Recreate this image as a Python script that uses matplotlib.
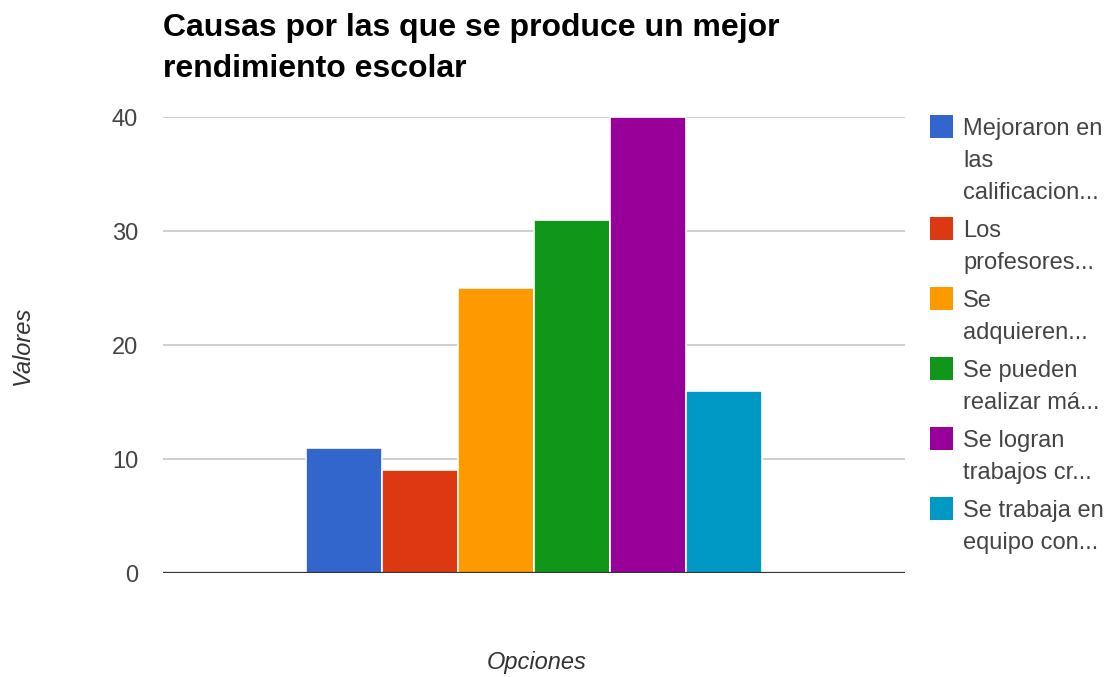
import numpy as np
import matplotlib.pyplot as plt
from matplotlib.patches import Rectangle

plt.rcParams['font.family'] = ['Liberation Sans', 'DejaVu Sans']

titulo = ['Causas por las que se produce un mejor', 'rendimiento escolar']
opciones = [['Mejoraron en', 'las', 'calificacion...'],
            ['Los', 'profesores...'],
            ['Se', 'adquieren...'],
            ['Se pueden', 'realizar má...'],
            ['Se logran', 'trabajos cr...'],
            ['Se trabaja en', 'equipo con...']]
valores = [11, 9, 25, 31, 40, 16]
colores = ['#3366cc', '#dc3912', '#ff9900', '#109618', '#990099', '#0099c6']
yticks = [0, 10, 20, 30, 40]

W, H = 1114, 677
fig = plt.figure(figsize=(W / 100, H / 100), dpi=100)
ax = fig.add_axes([163 / W, 1 - 573 / H, (905 - 163) / W, (573 - 117) / H])

n = len(valores)
xi = np.arange(n) - (n - 1) / 2
ax.bar(xi, valores, width=1.0, color=colores, edgecolor='white', linewidth=1.2, zorder=2)
ax.set_xlim(-4.88, 4.88)
ax.set_ylim(0, 40)
ax.set_yticks(yticks)
ax.set_xticks([])
ax.grid(axis='y', color='#cccccc', linewidth=1.3, zorder=0)
for s in ['top', 'right', 'left', 'bottom']:
    ax.spines[s].set_visible(False)
ax.axhline(0, color='#333333', linewidth=1.6, zorder=3)
ax.tick_params(axis='y', length=0, pad=18, labelsize=17, labelcolor='#444444')

# titulo en dos lineas
for k, linea in enumerate(titulo):
    fig.text(163 / W, 1 - (36 + 41 * k) / H, linea, fontsize=23, fontweight='bold',
             color='#000000', ha='left', va='baseline')
fig.text(22 / W, 1 - 345 / H, 'Valores', rotation=90, fontsize=17, style='italic',
         color='#333333', ha='center', va='center')
fig.text(537 / W, 1 - 663 / H, 'Opciones', fontsize=17, style='italic',
         color='#333333', ha='center', va='center')

# leyenda manual
top = 115
for etiqueta, c in zip(opciones, colores):
    fig.patches.append(Rectangle((930 / W, 1 - (top + 23) / H), 23 / W, 23 / H,
                                 transform=fig.transFigure, facecolor=c,
                                 edgecolor='none'))
    for k, linea in enumerate(etiqueta):
        fig.text(963 / W, 1 - (top + 14 + k * 32) / H, linea, fontsize=17,
                 color='#444444', ha='left', va='center')
    top += 38 + 32 * (len(etiqueta) - 1)

plt.savefig('out.png', dpi=100)
